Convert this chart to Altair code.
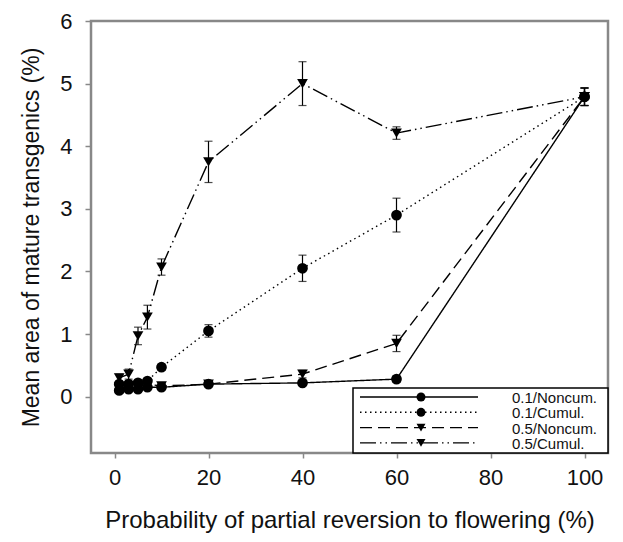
import altair as alt
import pandas as pd

# ---- data ----
x_vals = [1, 3, 5, 7, 10, 20, 40, 60, 100]
series_names = ["0.1/Noncum.", "0.1/Cumul.", "0.5/Noncum.", "0.5/Cumul."]
y_01_noncum = [0.10, 0.12, 0.12, 0.15, 0.15, 0.20, 0.22, 0.28, 4.79]
y_01_cumul = [0.20, 0.20, 0.22, 0.25, 0.47, 1.05, 2.05, 2.90, 4.79]
y_05_noncum = [0.15, 0.15, 0.15, 0.20, 0.17, 0.20, 0.36, 0.85, 4.79]
y_05_cumul = [0.30, 0.36, 0.97, 1.27, 2.07, 3.75, 5.00, 4.21, 4.79]
e_01_noncum = [0.03, 0.03, 0.03, 0.03, 0.03, 0.03, 0.04, 0.05, 0.14]
e_01_cumul = [0.03, 0.03, 0.03, 0.04, 0.05, 0.10, 0.21, 0.27, 0.14]
e_05_noncum = [0.03, 0.03, 0.03, 0.04, 0.04, 0.04, 0.06, 0.13, 0.14]
e_05_cumul = [0.06, 0.08, 0.14, 0.19, 0.13, 0.33, 0.35, 0.10, 0.14]
x_ticks = [0, 20, 40, 60, 80, 100]
y_ticks = [0, 1, 2, 3, 4, 5, 6]

ys = [y_01_noncum, y_01_cumul, y_05_noncum, y_05_cumul]
es = [e_01_noncum, e_01_cumul, e_05_noncum, e_05_cumul]
shapes = ["circle", "circle", "triangle-down", "triangle-down"]
dashes = [[1, 0], [1.5, 3.5], [12, 6], [16, 4, 1.5, 4, 1.5, 4]]

rows = []
for name, yv, ev, shp in zip(series_names, ys, es, shapes):
    for xv, yy, ee in zip(x_vals, yv, ev):
        rows.append({"series": name, "x": xv, "y": yy, "lo": yy - ee, "hi": yy + ee, "shape": shp})
df = pd.DataFrame(rows)

FONT = "Liberation Sans"
W, H = 517, 432

xscale = alt.Scale(domain=[-5, 105], nice=False, zero=False)
yscale = alt.Scale(domain=[-0.9, 6], nice=False, zero=False)

xenc = alt.X("x:Q", scale=xscale,
             axis=alt.Axis(values=x_ticks, format="d", title="Probability of partial reversion to flowering (%)",
                           grid=False, domain=False, tickSize=5, tickColor="#888888", tickWidth=1.5,
                           labelFontSize=22, labelFont=FONT, labelColor="#111111", labelPadding=9,
                           titleFont=FONT, titleFontSize=24, titleFontWeight="normal",
                           titleColor="#111111", titlePadding=20))
yenc = alt.Y("y:Q", scale=yscale,
             axis=alt.Axis(values=y_ticks, format="d", title="Mean area of mature transgenics (%)",
                           grid=False, domain=False, tickSize=6, tickColor="#888888", tickWidth=1.5,
                           labelFontSize=22, labelFont=FONT, labelColor="#111111", labelPadding=13,
                           titleFont=FONT, titleFontSize=23, titleFontWeight="normal",
                           titleColor="#111111", titlePadding=16))

layers = []
for name, dsh, shp in zip(series_names, dashes, shapes):
    sub = df[df.series == name]
    base = alt.Chart(sub)
    layers.append(base.mark_line(color="black", strokeWidth=1.4, strokeDash=dsh).encode(x=xenc, y=yenc, order="x:Q"))
for name, dsh, shp in zip(series_names, dashes, shapes):
    sub = df[df.series == name]
    base = alt.Chart(sub)
    layers.append(base.mark_rule(color="black", strokeWidth=1.2).encode(x="x:Q", y="lo:Q", y2="hi:Q"))
    layers.append(base.mark_tick(color="black", orient="horizontal", size=8, thickness=1.2).encode(x="x:Q", y="lo:Q"))
    layers.append(base.mark_tick(color="black", orient="horizontal", size=8, thickness=1.2).encode(x="x:Q", y="hi:Q"))
    layers.append(base.mark_point(shape=shp, filled=True, color="black", opacity=1, size=115).encode(x="x:Q", y="y:Q"))

# ---- manual legend (box at lower right of plot area) ----
lx0, lx1, ly0, ly1 = 262, 517, 367, 432
layers.append(alt.Chart(df.head(1)).mark_rect(fill="white", stroke="black", strokeWidth=1.5).encode(
    x=alt.value(lx0), x2=alt.value(lx1), y=alt.value(ly0), y2=alt.value(ly1)))
for i, (name, dsh, shp) in enumerate(zip(series_names, dashes, shapes)):
    ry = 376 + 15.3 * i
    one = alt.Chart(pd.DataFrame({"label": [name]}))
    layers.append(one.mark_rule(color="black", strokeWidth=1.4, strokeDash=dsh).encode(
        x=alt.value(269), x2=alt.value(387), y=alt.value(ry)))
    layers.append(one.mark_point(shape=shp, filled=True, color="black", opacity=1, size=80).encode(
        x=alt.value(330), y=alt.value(ry)))
    layers.append(one.mark_text(align="left", baseline="middle", font=FONT, fontSize=15, color="#111111").encode(
        x=alt.value(421), y=alt.value(ry + 1), text="label:N"))

chart = alt.layer(*layers).properties(
    width=W, height=H,
    autosize=alt.AutoSizeParams(type="none"),
    padding={"left": 91, "top": 21, "right": 15, "bottom": 89},
    background="white",
).configure_view(stroke="#888888", strokeWidth=2.5)

chart.save("out.html", embed_options={"renderer": "svg", "actions": False})
